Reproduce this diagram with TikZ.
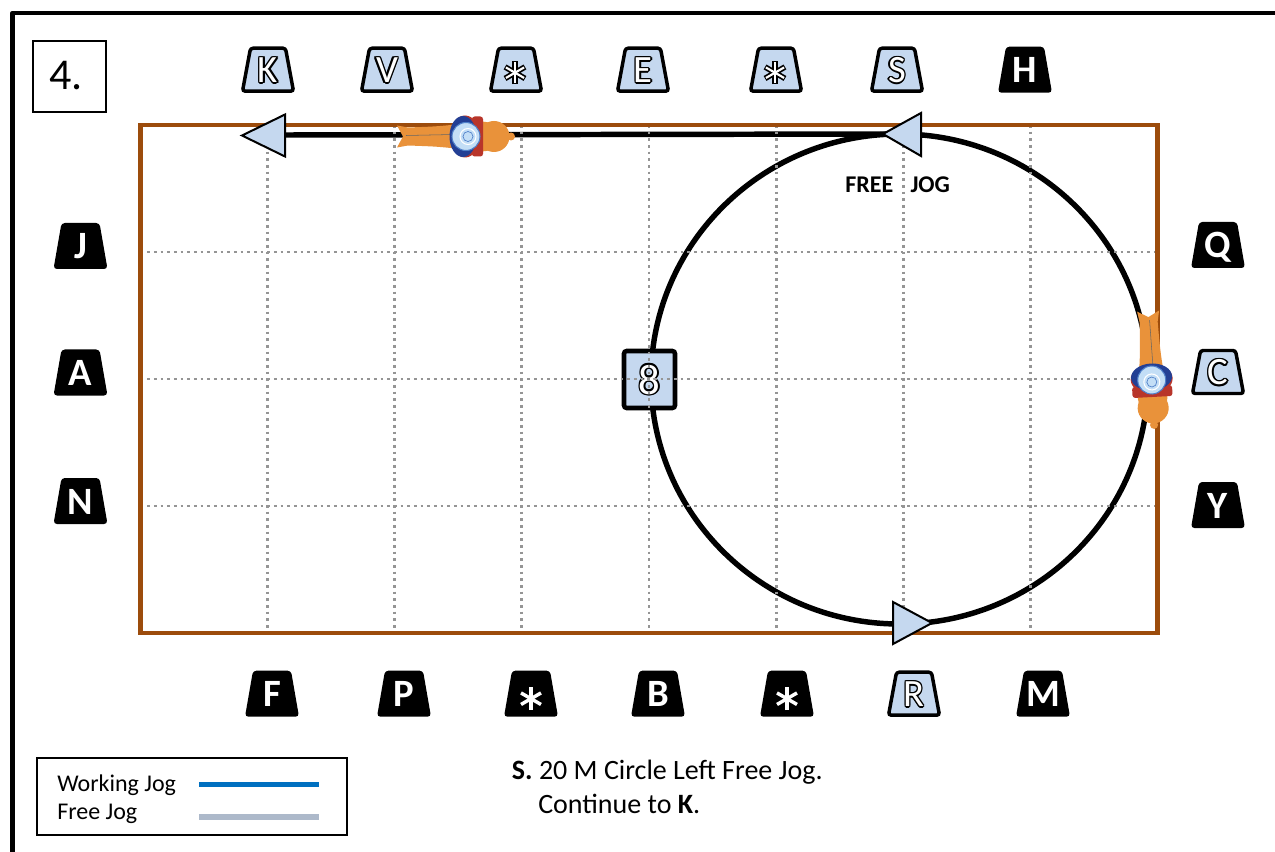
\documentclass[tikz,border=0pt]{standalone}
\usepackage{fontspec}
\setmainfont{Carlito}
\usetikzlibrary{calc}

\definecolor{plateblue}{HTML}{C5D8EF}
\definecolor{arenabrown}{HTML}{9C4C0C}
\definecolor{gridgray}{HTML}{959595}
\definecolor{horsecol}{HTML}{E9923A}
\definecolor{padred}{HTML}{B8352A}
\definecolor{riderblue}{HTML}{233F94}
\definecolor{helmetblue}{HTML}{C3DEF6}
\definecolor{helmetrim}{HTML}{4F7FC8}
\definecolor{workblue}{HTML}{0070C0}
\definecolor{freegray}{HTML}{ADB9CA}

% white letter with a thin black outline
\newcommand\olay[3]{\rlap{\kern#1\raisebox{#2}{\textcolor{black}{#3}}}}
\newcommand\olet[1]{%
  \olay{1.1pt}{0pt}{#1}\olay{-1.1pt}{0pt}{#1}\olay{0pt}{1.1pt}{#1}\olay{0pt}{-1.1pt}{#1}%
  \olay{.8pt}{.8pt}{#1}\olay{-.8pt}{.8pt}{#1}\olay{.8pt}{-.8pt}{#1}\olay{-.8pt}{-.8pt}{#1}%
  \textcolor{white}{#1}}

% arena letter plates: name, x, y (centre), letter
\newcommand\darkmkr[4]{%
  \path[dark plate] ({#2-27},{#3+23}) -- ({#2+27},{#3+23}) -- ({#2+19},{#3-23}) -- ({#2-19},{#3-23}) -- cycle;
  \node[dark label] (#1) at (#2,{#3+13}) {#4};}
\newcommand\lightmkr[4]{%
  \path[light plate] ({#2-25.5},{#3+21.5}) -- ({#2+25.5},{#3+21.5}) -- ({#2+17.5},{#3-21.5}) -- ({#2-17.5},{#3-21.5}) -- cycle;
  \node[light label] (#1) at (#2,{#3+13}) {\olet{#4}};}
\newcommand\darkstar[3]{%
  \path[dark plate] ({#2-27},{#3+23}) -- ({#2+27},{#3+23}) -- ({#2+19},{#3-23}) -- ({#2-19},{#3-23}) -- cycle;
  \coordinate (#1) at (#2,{#3+5});
  \foreach \a in {90,30,150} \draw[white, line width=2.6pt] (#1) ++(\a:11.5) -- ++({\a+180}:23);}
\newcommand\lightstar[3]{%
  \path[light plate] ({#2-25.5},{#3+21.5}) -- ({#2+25.5},{#3+21.5}) -- ({#2+17.5},{#3-21.5}) -- ({#2-17.5},{#3-21.5}) -- cycle;
  \coordinate (#1) at ({#2-1},{#3+3});
  \foreach \a in {90,30,150} \draw[black, line width=4.2pt] (#1) ++(\a:11.5) -- ++({\a+180}:23);
  \foreach \a in {90,30,150} \draw[white, line width=1.6pt] (#1) ++(\a:10.5) -- ++({\a+180}:21);}

% horse and rider seen from above, head towards -x, origin at the helmet
\newcommand\horsefig{%
  \fill[horsecol] (-10,-12) .. controls (-30,-10) .. (-58,-9) -- (-69,-11) -- (-63,0) -- (-69,11) -- (-58,9) .. controls (-30,10) .. (-10,12) -- cycle;
  \draw[black!60, line width=0.4pt] (-12,-2) -- (-60,-1);
  \fill[horsecol] (14,0) ellipse [x radius=24, y radius=15];
  \fill[horsecol] (28,0) circle [radius=15.5];
  \fill[horsecol] (45,0) circle [radius=4];
  \fill[padred, rounded corners=2pt] (6,-20) rectangle (17,20);
  \fill[padred] (-1,0) ellipse [x radius=15, y radius=21];
  \fill[riderblue] (-3,0) ellipse [x radius=13.5, y radius=20.5];
  \fill[helmetblue, draw=helmetrim, line width=0.8pt] (0,0) circle [radius=14];
  \draw[white, line width=0.8pt] (2,0) circle [radius=8];
  \draw[helmetrim, line width=0.5pt] (2,0) circle [radius=5];
}

\begin{document}
\begin{tikzpicture}[x=0.75pt, y=-0.75pt,
  frame/.style={line width=3.4pt, line join=round},
  arena/.style={draw=arenabrown, line width=3.4pt},
  gridline/.style={draw=gridgray, line width=2.1pt, dash pattern=on 2.1pt off 2.9pt},
  track/.style={draw=black, line width=4.1pt},
  arrowtri/.style={fill=plateblue, draw=black, line width=1.5pt, line join=miter},
  dark plate/.style={fill=black, rounded corners=2.5pt},
  light plate/.style={fill=plateblue, draw=black, line width=2.6pt, rounded corners=2pt},
  dark label/.style={anchor=base, inner sep=0pt, text=white, font=\bfseries\fontsize{29}{29}\selectfont},
  light label/.style={anchor=base, inner sep=0pt, font=\fontsize{29}{29}\selectfont},
  legend text/.style={anchor=base west, inner sep=0pt, font=\fontsize{18}{18}\selectfont},
  body text/.style={anchor=base west, inner sep=0pt, font=\fontsize{21}{21}\selectfont}]

\clip (0,0) rectangle (1275,852);
\fill[white] (0,0) rectangle (1275,852);

% page frame and exercise number
\draw[frame] (12.7,900) -- (12.7,13) -- (1300,13);
\draw[line width=1.5pt] (33,41) rectangle (106,112);
\node[anchor=base west, inner sep=0pt, font=\fontsize{33}{33}\selectfont] (num) at (49,90) {4.};

% the track: 20 m circle and the line on to K
\coordinate (ctop) at (899.5,134);
\coordinate (cc) at (899.5,379);
\draw[track] (cc) ellipse [x radius=248.5, y radius=245];
\draw[track] (ctop) -- (285,135);

% centre plate 8
\draw[fill=plateblue, line width=3.4pt, rounded corners=2pt] (624,351) rectangle (675,408);
\node[anchor=base, inner sep=0pt, font=\fontsize{32}{32}\selectfont] (eight) at (649.5,394) {\olet{8}};

% dotted grid
\foreach \i in {1,...,7}
  \draw[gridline] ({140.5+127.125*\i},125) -- ({140.5+127.125*\i},633);
\foreach \j in {1,2,3}
  \draw[gridline] (140.5,{125+127*\j}) -- (1157.5,{125+127*\j});

% arena
\draw[arena] (140.5,125) rectangle (1157.5,633);

% direction arrows
\draw[arrowtri] (883,134) -- (921,113) -- (921,156) -- cycle;
\draw[arrowtri] (932,623) -- (893,602) -- (893,644) -- cycle;
\draw[arrowtri] (242,135.5) -- (285,114.5) -- (285,156.5) -- cycle;

% horses
\begin{scope}[shift={(466,136.5)}]
  \horsefig
\end{scope}
\begin{scope}[shift={(1151.7,380)}, rotate=-87]
  \horsefig
\end{scope}

\node[anchor=base west, inner sep=0pt, font=\bfseries\fontsize{18}{18}\selectfont] (freejoglbl) at (845,192.7) {FREE\hspace{13pt}JOG};

% letters round the arena
\lightmkr{K}{268}{69.7}{K}
\lightmkr{V}{387}{69.7}{V}
\lightstar{topstar1}{516}{69.7}
\lightmkr{E}{643}{69.7}{E}
\lightstar{topstar2}{776}{69.7}
\lightmkr{S}{897}{69.7}{S}
\darkmkr{H}{1025}{69.7}{H}

\darkmkr{F}{272}{693.7}{F}
\darkmkr{P}{404}{693.7}{P}
\darkstar{botstar1}{531}{693.7}
\darkmkr{B}{658}{693.7}{B}
\darkstar{botstar2}{787}{693.7}
\lightmkr{R}{914}{693.7}{R}
\darkmkr{M}{1043}{693.7}{M}

\darkmkr{J}{80.5}{246}{J}
\darkmkr{A}{80.5}{372.5}{A}
\darkmkr{N}{80.5}{501}{N}
\darkmkr{Q}{1218}{245}{Q}
\lightmkr{C}{1218}{372}{C}
\darkmkr{Y}{1218}{505}{Y}

% legend
\draw[line width=1.5pt] (37,758) rectangle (347,835);
\node[legend text] (workjog) at (57,791) {Working Jog};
\node[legend text] (freejog) at (57,819) {Free Jog};
\draw[workblue, line width=4.1pt] (199,784.5) -- (319,784.5);
\draw[freegray, line width=4.1pt] (199,817) -- (319,817);

% instruction
\node[body text] (instr1) at (511.7,779) {\textbf{S.} 20 M Circle Left Free Jog.};
\node[body text] (instr2) at (538,813) {Continue to \textbf{K}.};
\end{tikzpicture}
\end{document}
